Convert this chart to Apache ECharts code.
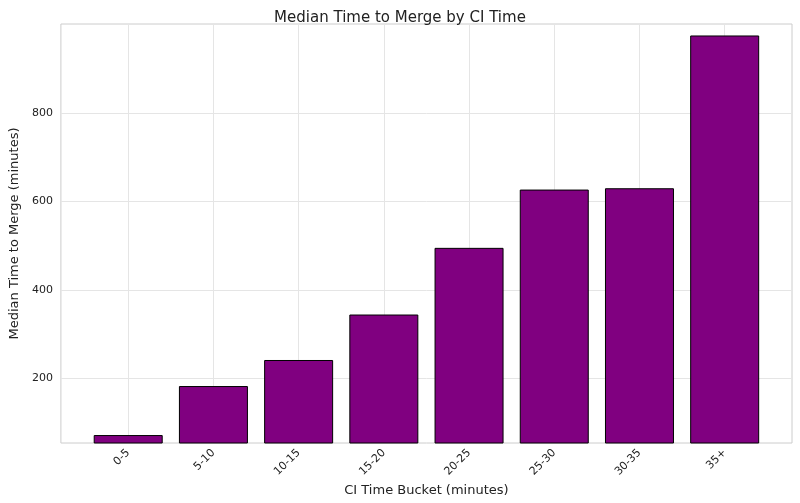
<!DOCTYPE html>
<html><head><meta charset="utf-8">
<script src="https://cdn.jsdelivr.net/npm/echarts@6/dist/echarts.min.js"></script>
<style>html,body{margin:0;padding:0;background:#fff}#c{width:800px;height:503px}</style>
</head><body><div id="c"></div>
<script>
const categories = ['0-5','5-10','10-15','15-20','20-25','25-30','30-35','35+'];
const values = [71, 182, 241, 344, 495, 627, 630, 976];
const yTicks = [200, 400, 600, 800];
const chart = echarts.init(document.getElementById('c'));
const font = 'DejaVu Sans';
chart.setOption({
  backgroundColor: '#fff',
  animation: false,
  title: { text: 'Median Time to Merge by CI Time', left: 'center', top: 6,
    textStyle: { fontFamily: font, fontSize: 15, fontWeight: 'normal', color: '#222' } },
  grid: { left: 55, right: 8, top: 24, bottom: 60, show: true, borderColor: '#ccc', borderWidth: 1 },
  xAxis: {
    type: 'value', min: -0.79, max: 7.79,
    name: 'CI Time Bucket (minutes)', nameLocation: 'middle', nameGap: 40,
    nameTextStyle: { fontFamily: font, fontSize: 13, color: '#222' },
    axisLine: { show: false }, axisTick: { show: false, customValues: categories.map((c,i)=>i) },
    splitLine: { show: true, lineStyle: { color: '#e5e5e5' } },
    axisLabel: { customValues: categories.map((c,i)=>i), formatter: v => categories[Math.round(v)],
      rotate: 45, fontFamily: font, fontSize: 11, color: '#222', margin: 8 }
  },
  yAxis: {
    type: 'value', min: 53, max: 1002,
    name: 'Median Time to Merge (minutes)', nameLocation: 'middle', nameGap: 38,
    nameTextStyle: { fontFamily: font, fontSize: 13, color: '#222' },
    axisLine: { show: false }, axisTick: { show: false, customValues: yTicks },
    splitLine: { show: true, lineStyle: { color: '#e5e5e5' } },
    axisLabel: { customValues: yTicks, fontFamily: font, fontSize: 11, color: '#222' }
  },
  series: [{
    type: 'bar', barWidth: 69,
    data: values.map((v,i)=>[i, v]),
    itemStyle: { color: '#800080', borderColor: '#000', borderWidth: 1 }
  }]
});
</script></body></html>
